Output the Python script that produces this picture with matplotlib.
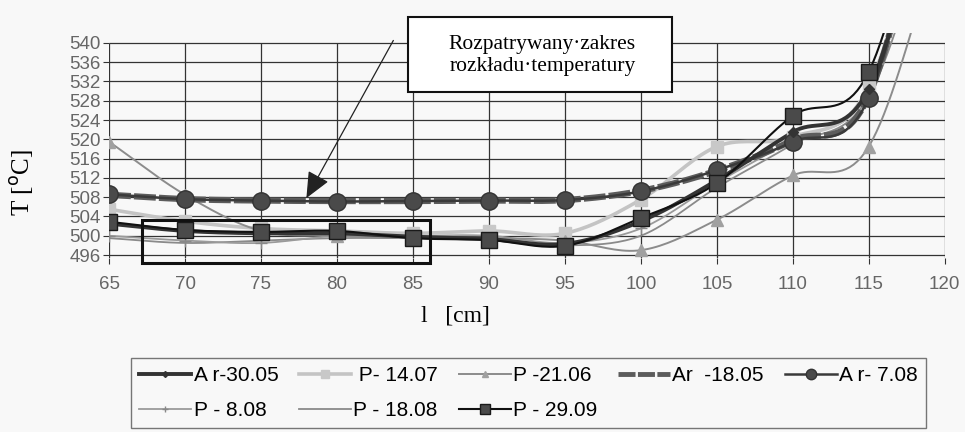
import numpy as np
import matplotlib
matplotlib.use("Agg")
import matplotlib.pyplot as plt
from matplotlib.patches import Rectangle

# distance along the wall [cm]
dist = [65, 70, 75, 80, 85, 90, 95, 100, 105, 110, 115, 120]

# temperature series [C] (120 cm point is off-scale)
ar_3005 = [502.5, 501.0, 500.5, 500.5, 499.8, 499.3, 498.3, 503.0, 511.5, 521.5, 530.5, 585]
p_1407 = [505.5, 503.0, 501.5, 501.0, 500.5, 501.0, 500.5, 507.5, 518.5, 520.5, 531.0, 585]
p_2106 = [519.5, 508.5, 501.0, 500.0, 499.5, 499.5, 499.0, 497.0, 503.3, 512.5, 518.5, 565]
ar_1805 = [508.5, 507.6, 507.3, 507.2, 507.2, 507.3, 507.4, 509.3, 513.5, 519.8, 529.0, 590]
ar_0708 = [508.6, 507.6, 507.3, 507.1, 507.2, 507.3, 507.4, 509.2, 513.6, 519.5, 528.6, 590]
p_0808 = [500.0, 499.0, 498.5, 500.0, 500.0, 500.0, 498.5, 501.5, 511.0, 520.0, 530.0, 580]
p_1808 = [499.5, 498.5, 499.0, 499.5, 499.5, 499.5, 498.0, 500.0, 510.0, 519.0, 529.0, 575]
p_2909 = [502.9, 501.2, 500.8, 501.0, 499.5, 499.1, 497.9, 503.7, 510.9, 524.9, 534.0, 590]

labels = ["A r-30.05", " P- 14.07", "P -21.06", "Ar  -18.05", "A r- 7.08",
          "P - 8.08", "P - 18.08", "P - 29.09"]
yticks = list(range(496, 541, 4))
xticks = list(range(65, 121, 5))


def smooth(x, y, n=20):
    # Excel-like smoothed line (Catmull-Rom through the points)
    x = np.asarray(x, float)
    y = np.asarray(y, float)
    px = np.concatenate([[2*x[0]-x[1]], x, [2*x[-1]-x[-2]]])
    py = np.concatenate([[2*y[0]-y[1]], y, [2*y[-1]-y[-2]]])
    xs, ys = [], []
    t = np.linspace(0, 1, n, endpoint=False)
    for i in range(1, len(px)-2):
        for arr, out in ((px, xs), (py, ys)):
            p0, p1, p2, p3 = arr[i-1], arr[i], arr[i+1], arr[i+2]
            m1 = (p2 - p0) / 2 / 3
            m2 = (p3 - p1) / 2 / 3
            c = ((1-t)**3*p1 + 3*(1-t)**2*t*(p1+m1) + 3*(1-t)*t**2*(p2-m2) + t**3*p2)
            out.extend(c)
    xs.append(x[-1])
    ys.append(y[-1])
    return np.array(xs), np.array(ys)


bg = "#f8f8f8"
fig = plt.figure(figsize=(9.65, 4.32), dpi=100, facecolor=bg)
ax = fig.add_axes([0.113, 0.403, 0.866, 0.52])
ax.set_facecolor(bg)

# data, line color, lw, linestyle, marker, marker face, marker edge, marker size
styles = {
    "p_1808": (p_1808, "#8a8a8a", 1.3, "-", None, "#8a8a8a", "#8a8a8a", 0),
    "p_0808": (p_0808, "#9a9a9a", 1.3, "-", "+", "#888888", "#888888", 8),
    "p_1407": (p_1407, "#c4c4c4", 2.6, "-", "s", "#c8c8c8", "#c8c8c8", 9),
    "p_2106": (p_2106, "#8c8c8c", 1.4, "-", "^", "#a0a0a0", "#a0a0a0", 8),
    "ar_1805": (ar_1805, "#5c5c5c", 4.5, (0, (3.5, 0.5)), None, "#5c5c5c", "#5c5c5c", 0),
    "ar_0708": (ar_0708, "#3a3a3a", 1.8, "-", "o", "#4a4a4a", "#333333", 12.5),
    "ar_3005": (ar_3005, "#333333", 2.8, "-", "D", "#333333", "#333333", 5),
    "p_2909": (p_2909, "#111111", 1.5, "-", "s", "#4a4a4a", "#1a1a1a", 11.5),
}
handles = {}
for key, (data, col, lw, ls, mk, mfc, mec, ms) in styles.items():
    sx, sy = smooth(dist, data)
    ax.plot(sx, sy, color=col, lw=lw, ls=ls, zorder=3)
    if mk:
        ax.plot(dist, data, ls="none", marker=mk, mfc=mfc, mec=mec, ms=ms,
                mew=1.0, zorder=4)
    h, = ax.plot([], [], color=col, lw=min(lw, 3.5), ls=ls, marker=mk,
                 mfc=mfc, mec=mec, ms=ms * 0.6)
    handles[key] = h

ax.set_xlim(65, 120)
ax.set_ylim(495.4, 542)
ax.set_xticks(xticks)
ax.set_yticks(yticks)
ax.tick_params(axis="both", labelsize=13.5, labelcolor="#666666", color="#333333",
               length=4, width=0.8)
ax.tick_params(axis="y", pad=2)
ax.tick_params(axis="x", pad=9)
for lab in ax.get_xticklabels() + ax.get_yticklabels():
    lab.set_family("Liberation Sans")
for s in ax.spines.values():
    s.set_visible(False)
ax.hlines(yticks, 65, 120, color="#333333", lw=0.9, zorder=1)
ax.vlines(xticks, 495.4, 540, color="#333333", lw=0.9, zorder=1)

ax.set_ylabel("T [$^{\\mathrm{o}}$C]", family="Liberation Serif", fontsize=18)
ax.yaxis.set_label_coords(-0.087, 0.334)
ax.set_xlabel("l   [cm]", family="Liberation Serif", fontsize=17)
ax.xaxis.set_label_coords(0.415, -0.21)

# marked range of the temperature distribution
ax.add_patch(Rectangle((67.2, 494.4), 18.9, 8.9, fill=False, ec="#111111",
                       lw=2.2, zorder=5, clip_on=False))
fig.patches.append(Rectangle((408 / 965, 1 - 92 / 432), 264 / 965, 75 / 432,
                             transform=fig.transFigure, fc="white",
                             ec="#111111", lw=1.5, zorder=5))
fig.text(0.562, 0.871, "Rozpatrywany\u00b7zakres\nrozk\u0142adu\u00b7temperatury",
         ha="center", va="center", family="Liberation Serif", fontsize=15.5,
         linespacing=1.2, zorder=6)
ax.annotate("", xy=(77.9, 507.3), xycoords="data",
            xytext=(0.409, 0.912), textcoords="figure fraction",
            arrowprops=dict(arrowstyle="-|>,head_length=0.9,head_width=0.4",
                            mutation_scale=18, color="#222222", lw=0.9),
            zorder=6)

# legend filled row by row, as in the original
order = ["ar_3005", "p_0808", "p_1407", "p_1808", "p_2106", "p_2909",
         "ar_1805", "ar_0708"]
lab_of = dict(zip(["ar_3005", "p_1407", "p_2106", "ar_1805", "ar_0708",
                   "p_0808", "p_1808", "p_2909"], labels))
leg = fig.legend([handles[k] for k in order], [lab_of[k] for k in order],
                 ncol=5, loc="upper left", bbox_to_anchor=(131 / 965, 1 - 358 / 432),
                 frameon=True, fancybox=False, edgecolor="#555555",
                 prop={"family": "Liberation Sans", "size": 15},
                 handlelength=2.5, handletextpad=0.1, columnspacing=1.0,
                 borderpad=0.4, labelspacing=0.75, borderaxespad=0)
leg.get_frame().set_linewidth(1.0)
leg.get_frame().set_facecolor(bg)

fig.savefig("out.png", dpi=100, facecolor=fig.get_facecolor())
